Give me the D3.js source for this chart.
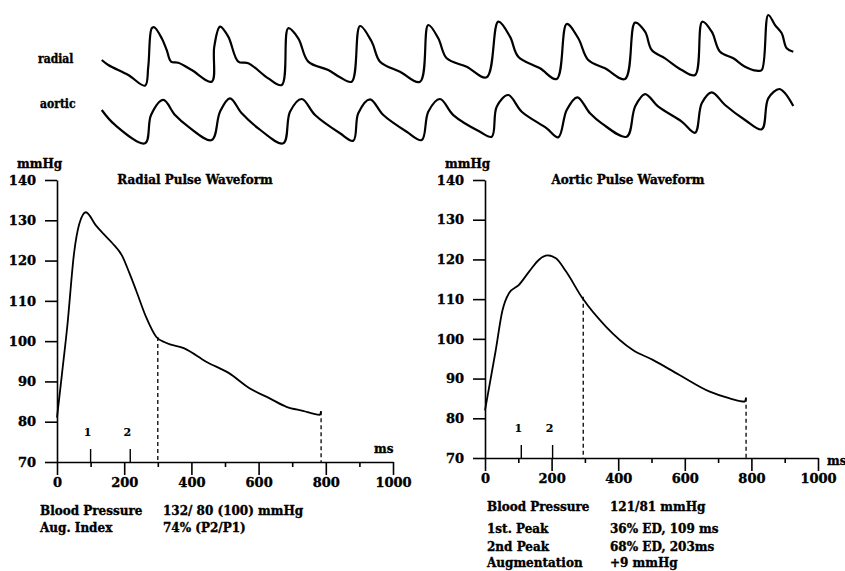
<!DOCTYPE html>
<html>
<head>
<meta charset="utf-8">
<script src="https://cdn.jsdelivr.net/npm/d3@7"></script>
<style>
  body { margin: 0; background: #fff; }
  svg text { font-family: "DejaVu Serif", "Liberation Serif", serif; font-weight: bold; fill: #000;
             stroke: #000; stroke-width: 0.35px; }
</style>
</head>
<body>
<svg id="chart" width="845" height="571"></svg>
<script>
// ---- data ----
// top strip: continuous tracings, time in ms, pressure in mmHg
var radialTraceT = [20,95,325,518,555,595,624,710,767,817,900,1055,1285,1314,1380,1475,1590,1705,1935,2090,2165,2280,2395,2625,
  2760,2895,2990,3125,3220,3450,3680,3775,3890,3987,4217,4447,4580,4715,4810,5060,5252,5367,5500,5615,
  5808,6038,6153,6268,6345,6498,6690,6843,6926,7035,7130,7283,7418,7552,7610,7685,7763,7840,7897,7973]
var radialTraceP = [100.4,95.8,86.5,76.6,94.2,129.9,130.8,120.6,109.7,98.9,97.9,91.1,80.3,112.8,131.4,122.1,98.9,97.4,83.4,77.2,129.9,120.6,98.9,91.1,
  84.4,80.3,132,117.4,98.9,89.6,80.3,132.9,120.6,102,94.2,84.4,136,122.1,103.5,92.7,82.8,133.9,120.6,100.4,
  92.7,82.8,135.1,126.7,109.7,102,91.1,86.5,136,126.7,108.1,102,94.2,90.5,91.1,142.2,132.9,125.2,111.3,108.1]

var aorticTraceT = [20,173,518,587,728,863,1015,1285,1380,1495,1630,1820,2108,2185,2320,2473,2760,2913,2970,3105,3258,3527,3700,
  3775,3910,4063,4370,4505,4562,4695,4850,5137,5270,5367,5489,5635,5770,6057,6153,6268,6421,6690,6843,6920,7035,7188,7418,7610,
  7685,7812,7878,7973]
var aorticTraceP = [110.8,96.9,79.9,106.1,120.1,106.1,95.3,82.9,109.2,121.6,107.7,93.8,79.9,109.2,121,106.1,89.2,82.3,107.7,120.7,106.1,90.6,82.9,
  109.2,121,106.1,90.6,86,113.9,124.7,109.2,93.8,85.4,110.8,122.6,107.7,98.4,86,113.9,125.6,113.9,100,89.7,117,127.2,115.4,101.5,92.9,
  121.6,130.3,126.3,114.5]

// single averaged waveforms
var radialT = [0,15,31,51,66,86,115,140,165,195,215,235,265,295,324,379,444,513,573,633,683,732,782,786]
var radialP = [81,92,104,122,129,132,128.8,126.5,124.3,121,117,112.7,106,101.1,99.6,98.2,94.9,92,88.3,85.8,83.7,82.7,81.7,82.6]
var aorticT = [0,32,52,72,102,133,163,188,213,243,293,363,444,504,584,675,735,780,784]
var aorticP = [82,97,107,111.5,113.6,117,120,121,120.3,117,110.2,103.1,97.2,94.7,90.9,86.7,85,84.2,85.2]

var yTicks = [70,80,90,100,110,120,130,140]
var xTicksMajor = [0,200,400,600,800,1000]
var xTicksMinor = [100,300,500,700,900]

var radialPeaks = [100,218]          // markers "1" and "2"
var aorticPeaks = [109,203]
var radialDash = [[300,101],[786,82.6]]
var aorticDash = [[295,110.6],[784,85.2]]

var radialText = [["Blood Pressure","132/ 80 (100) mmHg"],["Aug. Index","74%  (P2/P1)"]]
var aorticText = [["Blood Pressure","121/81 mmHg"],["1st. Peak","36% ED, 109 ms"],["2nd Peak","68% ED, 203ms"],["Augmentation","+9 mmHg"]]

var svg = d3.select("#chart")

// ---- top tracings ----
var xTrace = d3.scaleLinear().domain([0,8050]).range([100,800])
var yRadTrace = d3.scaleLinear().domain([80,132]).range([82,26])
var yAorTrace = d3.scaleLinear().domain([81,121]).range([142.1,99])

function traceLine(yScale){
  return d3.line()
    .x(function(d){ return xTrace(d[0]) })
    .y(function(d){ return yScale(d[1]) })
    .curve(d3.curveCatmullRom.alpha(0.5))
}

svg.append("path")
  .attr("d", traceLine(yRadTrace)(d3.zip(radialTraceT, radialTraceP)))
  .attr("fill","none").attr("stroke","#000").attr("stroke-width",2.2).attr("stroke-linejoin","round")
svg.append("path")
  .attr("d", traceLine(yAorTrace)(d3.zip(aorticTraceT, aorticTraceP)))
  .attr("fill","none").attr("stroke","#000").attr("stroke-width",2.2).attr("stroke-linejoin","round")

svg.append("text").attr("x",38).attr("y",63).attr("font-size",12)
  .style("font-stretch","condensed").text("radial")
svg.append("text").attr("x",40).attr("y",108).attr("font-size",12)
  .style("font-stretch","condensed").text("aortic")

// ---- waveform panels ----
function panel(opt){
  var x = d3.scaleLinear().domain([0,1000]).range([opt.x0, opt.x1])
  var y = d3.scaleLinear().domain([70,140]).range([opt.y0, opt.y1])
  var g = svg.append("g")

  var yAxis = d3.axisLeft(y).tickValues(yTicks).tickSize(12).tickSizeOuter(0).tickPadding(9)
  var ya = g.append("g").attr("transform","translate(" + opt.x0 + ",0)").call(yAxis)
  ya.selectAll("text").attr("font-size",13).attr("font-family","DejaVu Serif")

  var xAxis = d3.axisBottom(x).tickValues(xTicksMajor).tickSize(13).tickSizeOuter(0).tickPadding(3)
    .tickFormat(d3.format("d"))
  var xa = g.append("g").attr("transform","translate(0," + opt.y0 + ")").call(xAxis)
  xa.selectAll("text").attr("font-size",13).attr("font-family","DejaVu Serif")

  var xMinor = d3.axisBottom(x).tickValues(xTicksMinor).tickSize(5).tickFormat("")
  g.append("g").attr("transform","translate(0," + opt.y0 + ")").call(xMinor)
    .select(".domain").remove()

  g.selectAll(".domain, .tick line").attr("stroke","#000").attr("stroke-width",1.6)

  // peak markers
  g.selectAll(".pk").data(opt.peaks).enter().append("line")
    .attr("x1", function(d){ return x(d) }).attr("x2", function(d){ return x(d) })
    .attr("y1", opt.y0).attr("y2", opt.y0 - 13)
    .attr("stroke","#000").attr("stroke-width",1.4)
  g.selectAll(".pkl").data(opt.peaks).enter().append("text")
    .attr("x", function(d){ return x(d) - 3 }).attr("y", opt.y0 - 26)
    .attr("text-anchor","middle").attr("font-size",11).attr("font-family","DejaVu Sans")
    .style("stroke-width","0.1px")
    .text(function(d,i){ return i + 1 })

  // dashed drop lines
  g.selectAll(".dash").data(opt.dash).enter().append("line")
    .attr("x1", function(d){ return x(d[0]) }).attr("x2", function(d){ return x(d[0]) })
    .attr("y1", function(d){ return y(d[1]) }).attr("y2", opt.y0)
    .attr("stroke","#000").attr("stroke-width",1.3).attr("stroke-dasharray","4,3")

  var line = d3.line()
    .x(function(d){ return x(d[0]) })
    .y(function(d){ return y(d[1]) })
    .curve(d3.curveMonotoneX)
  g.append("path").attr("d", line(d3.zip(opt.t, opt.p)))
    .attr("fill","none").attr("stroke","#000").attr("stroke-width",1.8)

  g.append("text").attr("x", opt.x0 - 40).attr("y", opt.y1 - 12).attr("font-size",12).text("mmHg")
  g.append("text").attr("x", opt.titleX).attr("y", opt.y1 + 4).attr("font-size",12)
    .attr("text-anchor","middle").text(opt.title)
  g.append("text").attr("x", opt.msX).attr("y", opt.msY).attr("font-size",12).text("ms")

  opt.text.forEach(function(row, i){
    g.append("text").attr("x", opt.tx).attr("y", opt.ty[i]).attr("font-size",12).text(row[0])
    g.append("text").attr("x", opt.tx2).attr("y", opt.ty[i]).attr("font-size",12).text(row[1])
  })
}

panel({x0:57, x1:393, y0:462, y1:180, t:radialT, p:radialP, peaks:radialPeaks, dash:radialDash,
  title:"Radial Pulse Waveform", titleX:195, msX:374, msY:453,
  text:radialText, tx:40, tx2:163, ty:[515,532]})
panel({x0:485, x1:818, y0:458, y1:180, t:aorticT, p:aorticP, peaks:aorticPeaks, dash:aorticDash,
  title:"Aortic Pulse Waveform", titleX:628, msX:827, msY:465,
  text:aorticText, tx:487, tx2:610, ty:[511,533,551,567]})
</script>
</body>
</html>
